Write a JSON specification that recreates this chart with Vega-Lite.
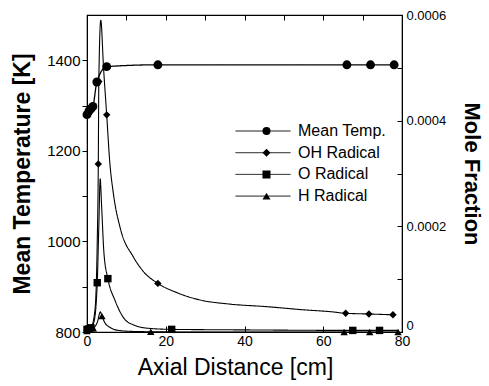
{
  "$schema": "https://vega.github.io/schema/vega-lite/v6.json",
  "width": 315,
  "height": 317,
  "autosize": {"type": "none"},
  "padding": {"left": 87, "top": 15, "right": 87, "bottom": 54},
  "background": "white",
  "config": {
    "font": "Liberation Sans",
    "view": {"stroke": "black", "strokeWidth": 1.2},
    "axis": {"grid": false, "domainColor": "black", "tickColor": "black", "labelColor": "black", "titleColor": "black", "labelFont": "Liberation Sans", "titleFont": "Liberation Sans"}
  },
  "datasets": {
    "temp": [
      {"x": 0, "T": 1280, "m": true, "s": "Mean Temp."},
      {"x": 0.5, "T": 1288, "m": true, "s": "Mean Temp."},
      {"x": 1.0, "T": 1293, "m": true, "s": "Mean Temp."},
      {"x": 1.5, "T": 1298, "m": true, "s": "Mean Temp."},
      {"x": 2.5, "T": 1352, "m": true, "s": "Mean Temp."},
      {"x": 5, "T": 1386, "m": true, "s": "Mean Temp."},
      {"x": 18, "T": 1390, "m": true, "s": "Mean Temp."},
      {"x": 66, "T": 1390, "m": true, "s": "Mean Temp."},
      {"x": 72, "T": 1390, "m": true, "s": "Mean Temp."},
      {"x": 78, "T": 1390, "m": true, "s": "Mean Temp."}
    ],
    "rad": [
      {"x": 0, "v": 0.000004, "m": true, "s": "OH Radical"},
      {"x": 1.0, "v": 0.000008, "m": true, "s": "OH Radical"},
      {"x": 2.0, "v": 0.00004, "m": false, "s": "OH Radical"},
      {"x": 2.6, "v": 0.00017, "m": false, "s": "OH Radical"},
      {"x": 2.87, "v": 0.000318, "m": true, "s": "OH Radical"},
      {"x": 3.0, "v": 0.000474, "m": true, "s": "OH Radical"},
      {"x": 3.5, "v": 0.00059, "m": false, "s": "OH Radical"},
      {"x": 4.2, "v": 0.0005, "m": false, "s": "OH Radical"},
      {"x": 5.0, "v": 0.000411, "m": true, "s": "OH Radical"},
      {"x": 5.8, "v": 0.00032, "m": false, "s": "OH Radical"},
      {"x": 6.7, "v": 0.000262, "m": false, "s": "OH Radical"},
      {"x": 8.5, "v": 0.000195, "m": false, "s": "OH Radical"},
      {"x": 11.7, "v": 0.000143, "m": false, "s": "OH Radical"},
      {"x": 14.5, "v": 0.000113, "m": false, "s": "OH Radical"},
      {"x": 18, "v": 0.000092, "m": true, "s": "OH Radical"},
      {"x": 23, "v": 0.000074, "m": false, "s": "OH Radical"},
      {"x": 28.7, "v": 0.0000606, "m": false, "s": "OH Radical"},
      {"x": 36, "v": 0.000053, "m": false, "s": "OH Radical"},
      {"x": 45.6, "v": 0.000048, "m": false, "s": "OH Radical"},
      {"x": 55, "v": 0.000042, "m": false, "s": "OH Radical"},
      {"x": 62.5, "v": 0.000038, "m": false, "s": "OH Radical"},
      {"x": 65.7, "v": 0.0000354, "m": true, "s": "OH Radical"},
      {"x": 71.6, "v": 0.0000341, "m": true, "s": "OH Radical"},
      {"x": 77.7, "v": 0.0000325, "m": true, "s": "OH Radical"},
      {"x": 0, "v": 0.000005, "m": true, "s": "O Radical"},
      {"x": 0.5, "v": 0.000006, "m": true, "s": "O Radical"},
      {"x": 1.0, "v": 0.000008, "m": true, "s": "O Radical"},
      {"x": 1.8, "v": 0.00002, "m": false, "s": "O Radical"},
      {"x": 2.6, "v": 0.0000933, "m": true, "s": "O Radical"},
      {"x": 3.0, "v": 0.0002, "m": false, "s": "O Radical"},
      {"x": 3.35, "v": 0.00029, "m": false, "s": "O Radical"},
      {"x": 3.7, "v": 0.00024, "m": false, "s": "O Radical"},
      {"x": 4.3, "v": 0.00015, "m": false, "s": "O Radical"},
      {"x": 5.3, "v": 0.000101, "m": true, "s": "O Radical"},
      {"x": 7.1, "v": 0.00006, "m": false, "s": "O Radical"},
      {"x": 9.6, "v": 0.000024, "m": false, "s": "O Radical"},
      {"x": 12, "v": 0.000013, "m": false, "s": "O Radical"},
      {"x": 15.6, "v": 0.000007, "m": false, "s": "O Radical"},
      {"x": 21.5, "v": 0.000005, "m": true, "s": "O Radical"},
      {"x": 40, "v": 0.000004, "m": false, "s": "O Radical"},
      {"x": 67.5, "v": 0.000003, "m": true, "s": "O Radical"},
      {"x": 74.3, "v": 0.000003, "m": true, "s": "O Radical"},
      {"x": 79, "v": 0.000003, "m": false, "s": "O Radical"},
      {"x": 0, "v": 0.000002, "m": true, "s": "H Radical"},
      {"x": 0.8, "v": 0.000004, "m": true, "s": "H Radical"},
      {"x": 1.6, "v": 0.000007, "m": true, "s": "H Radical"},
      {"x": 2.6, "v": 0.000018, "m": false, "s": "H Radical"},
      {"x": 3.4, "v": 0.000038, "m": false, "s": "H Radical"},
      {"x": 3.8, "v": 0.00003, "m": true, "s": "H Radical"},
      {"x": 4.5, "v": 0.000018, "m": false, "s": "H Radical"},
      {"x": 6, "v": 0.000008, "m": false, "s": "H Radical"},
      {"x": 8, "v": 0.000003, "m": false, "s": "H Radical"},
      {"x": 12, "v": 0.000001, "m": false, "s": "H Radical"},
      {"x": 16.2, "v": 0.0000005, "m": true, "s": "H Radical"},
      {"x": 30, "v": 0, "m": false, "s": "H Radical"},
      {"x": 65.3, "v": 0, "m": true, "s": "H Radical"},
      {"x": 71.8, "v": 0, "m": true, "s": "H Radical"},
      {"x": 79, "v": 0, "m": true, "s": "H Radical"}
    ]
  },
  "layer": [
    {
      "data": {"name": "temp"},
      "layer": [
        {
          "mark": {"type": "line", "interpolate": "monotone", "color": "black", "strokeWidth": 1.3},
          "encoding": {
            "x": {"field": "x", "type": "quantitative", "scale": {"domain": [0, 80], "nice": false},
              "axis": {"values": [0, 10, 20, 30, 40, 50, 60, 70, 80], "labelExpr": "datum.value % 20 === 0 ? datum.label : ''", "tickSize": -6, "labelPadding": 8, "labelFontSize": 14, "title": "Axial Distance [cm]", "titleFontSize": 23, "titleFontWeight": "normal", "titlePadding": 8, "titleX": 148, "labelFlush": false, "labelOverlap": false}},
            "y": {"field": "T", "type": "quantitative", "scale": {"domain": [800, 1500], "nice": false, "zero": false},
              "axis": {"values": [800, 900, 1000, 1100, 1200, 1300, 1400], "format": "d", "labelExpr": "datum.value % 200 === 0 ? datum.label : ''", "tickSize": 5, "labelPadding": 2, "labelFontSize": 15, "title": "Mean Temperature [K]", "titleFontSize": 23, "titleFontWeight": "bold", "titlePadding": 12, "labelOverlap": false, "labelFlush": false}},
            "strokeDash": {"field": "s", "type": "nominal",
              "scale": {"range": [[1, 0]]},
              "legend": {"orient": "none", "legendX": 148, "legendY": 108, "title": null, "padding": 0, "values": ["Mean Temp.", "OH Radical", "O Radical", "H Radical"], "symbolType": "stroke", "symbolSize": 3025, "symbolStrokeWidth": 1, "symbolStrokeColor": "black", "clipHeight": 16, "labelFont": "Liberation Sans", "labelFontSize": 16, "labelColor": "black", "labelOffset": 7, "rowPadding": 5.7}}
          }
        },
        {
          "transform": [{"filter": "datum.m"}],
          "mark": {"type": "point", "filled": true, "color": "black", "opacity": 1, "size": 80},
          "encoding": {
            "x": {"field": "x", "type": "quantitative"},
            "y": {"field": "T", "type": "quantitative"},
            "shape": {"field": "s", "type": "nominal",
              "scale": {"domain": ["Mean Temp.", "OH Radical", "O Radical", "H Radical"], "range": ["circle", "diamond", "square", "triangle-up"]},
              "legend": {"orient": "none", "legendX": 171.5, "legendY": 108, "title": null, "padding": 0, "symbolSize": 64, "symbolFillColor": "black", "symbolStrokeColor": "black", "clipHeight": 16, "labelFont": "Liberation Sans", "labelFontSize": 16, "labelExpr": "''", "rowPadding": 5.7}}
          }
        }
      ]
    },
    {
      "data": {"name": "rad"},
      "layer": [
        {
          "mark": {"type": "line", "interpolate": "monotone", "color": "black", "strokeWidth": 1.1},
          "encoding": {
            "x": {"field": "x", "type": "quantitative",
              "axis": {"orient": "top", "values": [10, 20, 30, 40, 50, 60, 70], "labels": false, "tickSize": -5, "title": null, "domain": false}},
            "y": {"field": "v", "type": "quantitative", "scale": {"domain": [0, 0.0006], "nice": false},
              "axis": {"orient": "right", "values": [0, 0.0001, 0.0002, 0.0003, 0.0004, 0.0005, 0.0006], "labelExpr": "round(datum.value * 10000) % 2 === 0 ? (datum.value === 0 ? '0' : format(datum.value, '.4f')) : ''", "labelBaseline": {"condition": {"test": "datum.value === 0", "value": "bottom"}, "value": "middle"}, "tickSize": -5, "labelPadding": 9, "labelFontSize": 13, "title": "Mole Fraction", "titleFontSize": 22, "titleFontWeight": "bold", "titlePadding": 14, "labelOverlap": false, "labelFlush": false}},
            "strokeDash": {"field": "s", "type": "nominal"}
          }
        },
        {
          "transform": [{"filter": "datum.m"}],
          "mark": {"type": "point", "filled": true, "color": "black", "opacity": 1, "size": 55},
          "encoding": {
            "x": {"field": "x", "type": "quantitative"},
            "y": {"field": "v", "type": "quantitative"},
            "shape": {"field": "s", "type": "nominal"}
          }
        }
      ]
    }
  ],
  "resolve": {"scale": {"y": "independent"}, "axis": {"x": "independent"}}
}
